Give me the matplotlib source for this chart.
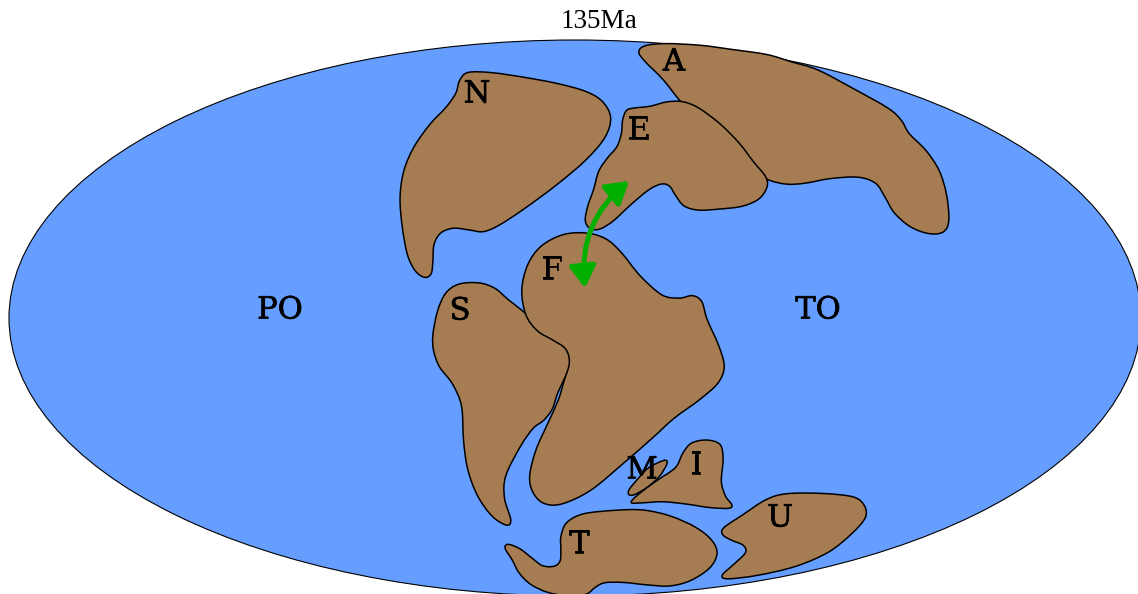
import numpy as np
import matplotlib
matplotlib.use("Agg")
import matplotlib.pyplot as plt
import matplotlib.patheffects as pe
from matplotlib.path import Path
from matplotlib.patches import PathPatch, Ellipse, FancyArrowPatch

# plate outlines in pixels
north_america = [(459,80),(465,71),(490,72),(523,77),(557,83),(587,91),(603,100),(613,117),(607,137),(587,160),(557,185),(523,210),(497,227),(483,233),(470,230),(453,227),(440,232),(433,243),(433,263),(432,275),(425,279),(415,272),(407,257),(402,227),(399,197),(403,170),(413,147),(430,123),(447,107),(457,93)]
asia = [(637,52),(643,45),(663,43),(703,45),(727,49),(770,54),(790,62),(817,68),(850,87),(893,110),(902,120),(907,133),(927,150),(940,170),(947,193),(950,223),(945,233),(930,235),(910,228),(893,213),(885,197),(877,182),(860,176),(830,178),(803,184),(787,185),(766,180),(754,171),(743,152),(722,132),(695,112),(683,106),(663,78),(643,60)]
europe = [(622,120),(626,109),(633,108),(650,107),(667,101),(683,101),(697,106),(720,123),(740,143),(753,162),(768,178),(768,187),(760,200),(743,207),(720,209),(697,211),(683,207),(675,195),(670,185),(662,183),(650,188),(630,205),(613,222),(600,230),(590,230),(584,222),(587,207),(594,190),(598,170),(607,158),(618,147),(622,133)]
africa = [(520,290),(527,263),(540,245),(563,233),(587,232),(607,238),(620,250),(640,277),(663,298),(680,299),(693,294),(703,300),(705,317),(720,347),(726,367),(720,383),(700,400),(673,418),(653,438),(627,460),(590,493),(560,506),(543,505),(532,493),(528,478),(535,450),(548,423),(559,400),(564,380),(571,362),(567,348),(553,340),(537,332),(525,317)]
south_america = [(432,337),(437,310),(445,292),(457,283),(480,282),(495,287),(508,300),(522,310),(535,322),(552,335),(568,345),(575,360),(566,375),(557,393),(553,410),(544,421),(533,427),(522,443),(503,478),(503,497),(513,523),(508,527),(492,518),(477,497),(467,470),(463,443),(463,403),(453,383),(438,367),(433,350)]
madagascar = [(628,490),(637,480),(647,468),(657,463),(667,459),(668,463),(660,477),(647,488),(633,496),(628,495)]
india = [(628,504),(637,495),(657,480),(678,468),(682,453),(690,442),(707,439),(722,443),(724,457),(720,483),(725,497),(733,505),(732,509),(710,508),(687,504),(663,501),(640,503)]
australia = [(720,529),(743,515),(767,498),(783,493),(823,493),(857,496),(865,505),(868,517),(853,533),(830,553),(797,567),(757,576),(723,580),(720,576),(733,565),(748,552),(745,545),(730,540),(722,535)]
antarctica = [(560,537),(565,522),(580,513),(617,510),(643,509),(670,515),(697,527),(713,540),(719,553),(712,568),(690,582),(670,587),(647,585),(623,582),(603,582),(595,587),(588,595),(570,597),(547,593),(530,585),(518,573),(513,560),(503,547),(507,543),(520,548),(532,558),(542,567),(555,567),(561,562),(561,550)]
plates = [north_america, asia, europe, south_america, africa, madagascar, india, australia, antarctica]

labels = ["N", "A", "E", "F", "S", "PO", "TO", "M", "I", "T", "U"]
label_x = [477, 674, 639, 552, 460, 280, 818, 642, 696, 579, 780]
label_y = [94, 62, 130, 270, 311, 310, 310, 470, 465, 544, 518]


def smooth_path(points):
    # closed catmull-rom through the points, as bezier segments
    pts = np.array(points, dtype=float)
    # my readings are a bit jittery, soften them first
    pts = 0.7*pts + 0.15*np.roll(pts, 1, axis=0) + 0.15*np.roll(pts, -1, axis=0)
    n = len(pts)
    verts = [pts[0]]
    codes = [Path.MOVETO]
    for i in range(n):
        p0, p1, p2, p3 = pts[i-1], pts[i], pts[(i+1) % n], pts[(i+2) % n]
        verts += [p1 + (p2-p0)/6, p2 - (p3-p1)/6, p2]
        codes += [Path.CURVE4]*3
    return Path(verts, codes)


fig = plt.figure(figsize=(11.38, 5.94), dpi=100)
ax = fig.add_axes([0, 0, 1, 1])
ax.set_xlim(0, 1138)
ax.set_ylim(594, 0)
ax.axis("off")

ax.add_patch(Ellipse((575, 318), 1132, 556, facecolor="#669eff", edgecolor="black", linewidth=0.8))

for plate in plates:
    ax.add_patch(PathPatch(smooth_path(plate), facecolor="#a67c52", edgecolor="black", linewidth=1.1))

arrow = FancyArrowPatch((585, 288), (629, 181), connectionstyle="arc3,rad=-0.27",
                        arrowstyle="<|-|>,head_length=9.3,head_width=5.7", mutation_scale=1.4,
                        color="#00b000", linewidth=3.6, shrinkA=0, shrinkB=0)
ax.add_patch(arrow)

for lab, x, y in zip(labels, label_x, label_y):
    t = ax.text(x, y, lab, ha="center", va="center", family="DejaVu Serif", fontsize=22, color="black")
    t.set_path_effects([pe.withStroke(linewidth=0.5, foreground="black")])

ax.text(599, 22, "135Ma", ha="center", va="center", family="Liberation Serif", fontsize=19.5, color="black")

fig.savefig("out.png", dpi=100)
